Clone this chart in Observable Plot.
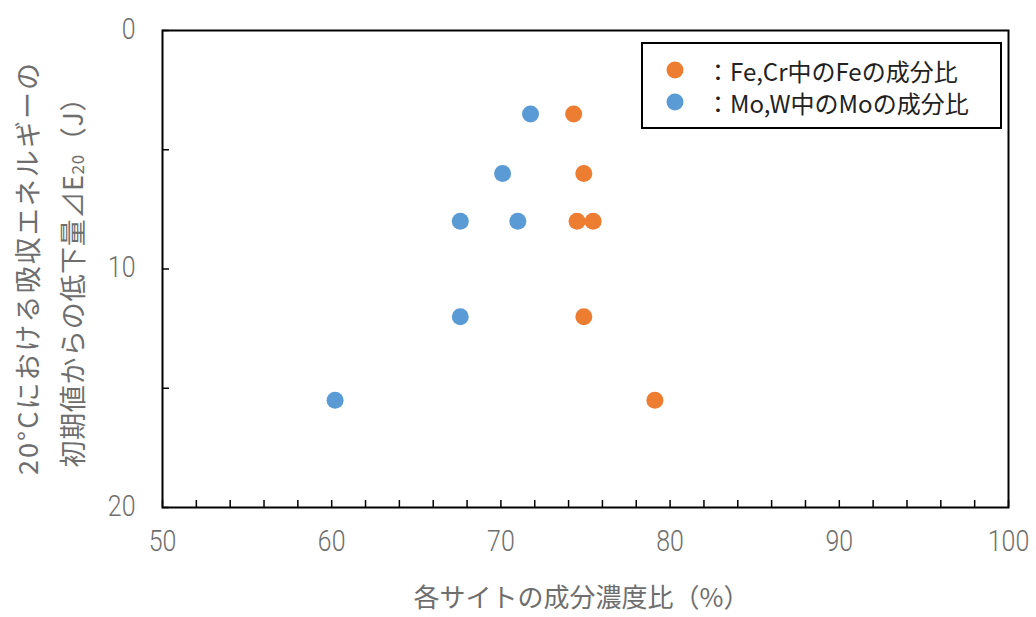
<!DOCTYPE html>
<html>
<head>
<meta charset="utf-8">
<script src="https://cdn.jsdelivr.net/npm/d3@7"></script>
<script src="https://cdn.jsdelivr.net/npm/@observablehq/plot@0.6"></script>
<style>
  html, body { margin: 0; padding: 0; background: #fff; }
  #chart svg { display: block; }
</style>
</head>
<body>
<div id="chart"></div>
<script>
// ---- data ----
const seriesNames = ["Fe,Cr中のFeの成分比", "Mo,W中のMoの成分比"];
const seriesColors = ["#ED7D31", "#5B9BD5"];
const feX = [74.3, 74.9, 74.5, 75.45, 74.9, 79.1];
const feY = [3.5, 6.0, 8.0, 8.0, 12.0, 15.5];
const moX = [71.75, 70.1, 67.6, 71.0, 67.6, 60.2];
const moY = [3.5, 6.0, 8.0, 8.0, 12.0, 15.5];
const xTickLabels = [50, 60, 70, 80, 90, 100];
const xMinorTicks = d3.range(50, 101, 2);
const yTickLabels = [0, 10, 20];
const yMinorTicks = [0, 5, 10, 15, 20];
const xTitle = "各サイトの成分濃度比（%）";
const yTitle1 = "20°Cにおける吸収エネルギーの";
const yTitle2a = "初期値からの低下量⊿E";
const yTitle2sub = "20";
const yTitle2b = "（J）";

const data = [
  ...feX.map((x, i) => ({x, y: feY[i], s: seriesNames[0]})),
  ...moX.map((x, i) => ({x, y: moY[i], s: seriesNames[1]}))
];

const font = "'Noto Sans CJK JP', 'Noto Sans', sans-serif";
const numFont = "Roboto, 'Liberation Sans', sans-serif";
const gray = "#6e6e6e";

const chart = Plot.plot({
  width: 1036,
  height: 617,
  marginTop: 30,
  marginRight: 28,
  marginBottom: 110,
  marginLeft: 162,
  style: {fontFamily: font, background: "#fff"},
  x: {domain: [50, 100]},
  y: {domain: [0, 20], reverse: true},
  color: {domain: seriesNames, range: seriesColors},
  marks: [
    Plot.axisX({ticks: xMinorTicks, tickSize: -7, tickFormat: () => "", color: "#000", strokeWidth: 1.5, label: null}),
    Plot.axisX({ticks: xTickLabels, tickSize: 0, tickPadding: 23, fontSize: 29, fontFamily: numFont, fontWeight: 300, color: gray, label: null}),
    Plot.axisY({ticks: yMinorTicks, tickSize: -7, tickFormat: () => "", color: "#000", strokeWidth: 1.5, label: null}),
    Plot.axisY({ticks: yTickLabels, tickSize: 0, tickPadding: 27, fontSize: 29, fontFamily: numFont, fontWeight: 300, color: gray, label: null, dy: -1}),
    Plot.frame({stroke: "#000", strokeWidth: 2}),
    Plot.dot(data, {x: "x", y: "y", fill: "s", r: 8.5}),
    Plot.text([xTitle], {frameAnchor: "bottom", dy: 99, dx: -4, fontSize: 26, letterSpacing: 3.3, fill: gray})
  ]
});

document.getElementById("chart").appendChild(chart);

const svg = d3.select(chart);

// narrow the tick label digits (the reference uses a condensed face)
svg.selectAll('[aria-label="x-axis tick label"] text, [aria-label="y-axis tick label"] text')
  .each(function() {
    const t = this.getAttribute("transform");
    if (t) this.setAttribute("transform", t + " scale(0.86,1)");
  });

// y title (two rotated lines, with subscript)
svg.append("text")
  .attr("transform", `translate(26,269) rotate(-90)`)
  .attr("text-anchor", "middle").attr("dominant-baseline", "central")
  .attr("font-size", 27).attr("fill", gray).attr("font-family", font)
  .attr("textLength", 412).attr("lengthAdjust", "spacing")
  .text(yTitle1);
const t2 = svg.append("text")
  .attr("transform", `translate(71,276) rotate(-90)`)
  .attr("text-anchor", "middle").attr("dominant-baseline", "central")
  .attr("font-size", 27).attr("fill", gray).attr("font-family", font)
  .attr("textLength", 383).attr("lengthAdjust", "spacing");
t2.append("tspan").text(yTitle2a);
t2.append("tspan").attr("font-size", 17).attr("dy", 5).text(yTitle2sub);
t2.append("tspan").attr("dy", -5).text(yTitle2b);

// legend
const lg = svg.append("g");
lg.append("rect").attr("x", 642).attr("y", 43).attr("width", 359).attr("height", 85)
  .attr("fill", "#fff").attr("stroke", "#000").attr("stroke-width", 2);
seriesNames.forEach((name, i) => {
  const y = 70 + i * 32;
  lg.append("circle").attr("cx", 675).attr("cy", y).attr("r", 8.5).attr("fill", seriesColors[i]);
  lg.append("text").attr("x", 706).attr("y", y).attr("text-anchor", "start")
    .attr("dominant-baseline", "central")
    .attr("font-size", 24).attr("fill", "#222").attr("font-family", font)
    .text("：" + name);
});
</script>
</body>
</html>
